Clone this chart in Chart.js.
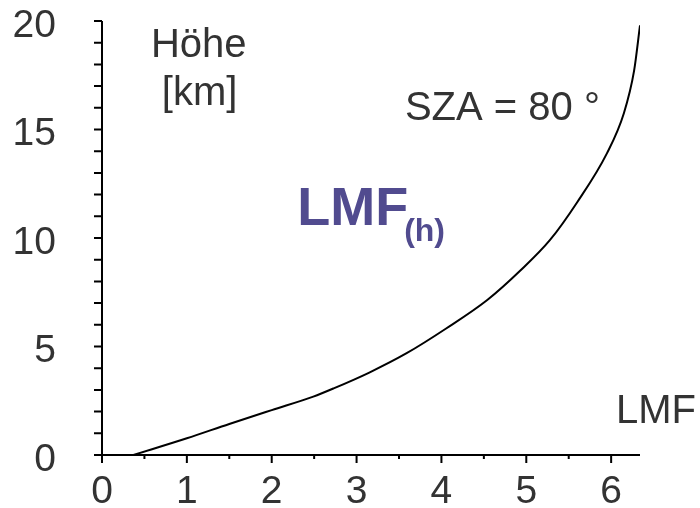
<!DOCTYPE html>
<html>
<head>
<meta charset="utf-8">
<script src="https://cdn.jsdelivr.net/npm/chart.js@4"></script>
<style>
  html, body { margin: 0; padding: 0; background: #fff; }
  #wrap { width: 700px; height: 508px; }
</style>
</head>
<body>
<div id="wrap"><canvas id="myChart" width="700" height="508"></canvas></div>
<script>
// LMF (x) vs Höhe in km (y)
const lmf = [0.37, 1.0, 1.5, 2.0, 2.49, 2.73, 3.15, 3.59, 4.06, 4.54, 4.93, 5.28, 5.6, 5.95, 6.15, 6.27, 6.34];
const hoehe = [0, 0.77, 1.43, 2.07, 2.69, 3.07, 3.8, 4.69, 5.84, 7.14, 8.5, 9.91, 11.65, 13.9, 15.75, 17.7, 19.8];
const xTicks = [0, 1, 2, 3, 4, 5, 6];
const yTicks = [0, 5, 10, 15, 20];

const ink = "#333333";
const purple = "#514b8f";
const font = "Liberation Sans, Arial, sans-serif";

// axes, tick marks and the text labels inside the plot
const axesPlugin = {
  id: "axes",
  afterDraw(chart) {
    const c = chart.ctx;
    const xs = chart.scales.x;
    const ys = chart.scales.y;
    const x0 = xs.getPixelForValue(0);
    const y0 = ys.getPixelForValue(0);
    c.save();
    c.strokeStyle = "#000";
    c.lineWidth = 2;
    c.beginPath();
    // y axis (a bit past the x axis)
    c.moveTo(x0, ys.getPixelForValue(20));
    c.lineTo(x0, y0 + 8);
    // x axis (a bit past the y axis)
    c.moveTo(x0 - 8, y0);
    c.lineTo(xs.getPixelForValue(6.34), y0);
    // y ticks every km
    for (let v = 1; v <= 20; v++) {
      const p = ys.getPixelForValue(v);
      c.moveTo(x0 - 8, p);
      c.lineTo(x0, p);
    }
    // x ticks: long on integers, short on halves
    for (let v = 0.5; v <= 6; v += 0.5) {
      const p = xs.getPixelForValue(v);
      c.moveTo(p, y0);
      c.lineTo(p, y0 + (v % 1 === 0 ? 8 : 4));
    }
    c.stroke();

    c.fillStyle = ink;
    c.textBaseline = "alphabetic";
    c.font = "40px " + font;
    c.textAlign = "center";
    c.fillText("Höhe", xs.getPixelForValue(1.14), ys.getPixelForValue(18.34));
    c.fillText("[km]", xs.getPixelForValue(1.15), ys.getPixelForValue(16.14));
    c.textAlign = "left";
    c.fillText("SZA = 80 °", xs.getPixelForValue(3.57), ys.getPixelForValue(15.44));
    c.textAlign = "right";
    c.fillText("LMF", xs.getPixelForValue(7.0), ys.getPixelForValue(1.47));

    c.fillStyle = purple;
    c.textAlign = "left";
    c.font = "bold 54px " + font;
    const lx = xs.getPixelForValue(2.3);
    const ly = ys.getPixelForValue(10.6);
    c.fillText("LMF", lx, ly);
    const w = c.measureText("LMF").width;
    c.font = "bold 32px " + font;
    c.fillText("(h)", lx + w - 4, ly + 16);
    c.restore();
  }
};

const ctx = document.getElementById("myChart").getContext("2d");

const myChart = new Chart(ctx, {
  type: "scatter",
  data: {
    datasets: [
      {
        data: lmf.map((v, i) => ({ x: v, y: hoehe[i] })),
        showLine: true,
        borderColor: "#000",
        borderWidth: 2,
        pointRadius: 0,
        cubicInterpolationMode: "monotone",
      },
    ],
  },
  plugins: [axesPlugin],
  options: {
    responsive: false,
    animation: false,
    layout: {
      padding: { top: 21, right: 60, left: 0, bottom: 0 },
    },
    scales: {
      x: {
        type: "linear",
        min: 0,
        max: 6.34,
        grid: { display: false },
        border: { display: false },
        afterFit: (scale) => {
          scale.height = 53;
          scale.paddingLeft = 0;
          scale.paddingRight = 0;
        },
        afterBuildTicks: (scale) => {
          scale.ticks = xTicks.map((v) => ({ value: v }));
        },
        ticks: {
          color: ink,
          font: { family: font, size: 39 },
          padding: 6,
          maxRotation: 0,
          autoSkip: false,
        },
      },
      y: {
        type: "linear",
        min: 0,
        max: 20,
        grid: { display: false },
        border: { display: false },
        afterFit: (scale) => {
          scale.width = 102;
          scale.paddingTop = 0;
          scale.paddingBottom = 0;
        },
        afterBuildTicks: (scale) => {
          scale.ticks = yTicks.map((v) => ({ value: v }));
        },
        ticks: {
          color: ink,
          font: { family: font, size: 39 },
          padding: 38,
          labelOffset: 5,
        },
      },
    },
    plugins: {
      legend: { display: false },
      tooltip: { enabled: false },
    },
  },
});
</script>
</body>
</html>
